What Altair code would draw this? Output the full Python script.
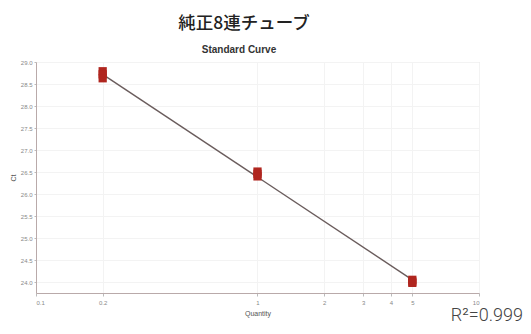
import altair as alt
import pandas as pd

# Data
quantity = [0.2, 0.2, 0.2, 1, 1, 1, 5, 5, 5]
ct = [28.79, 28.72, 28.63, 26.51, 26.46, 26.40, 24.05, 24.01, 23.98]
fit_quantity = [0.2, 5]
fit_ct = [28.72, 24.05]
x_ticks = [0.1, 0.2, 1, 2, 3, 4, 5, 10]
y_ticks = [24.0, 24.5, 25.0, 25.5, 26.0, 26.5, 27.0, 27.5, 28.0, 28.5, 29.0]
main_title = "純正8連チューブ"
sub_title = "Standard Curve"
r2_label = "R²=0.999"

pts = pd.DataFrame({"Quantity": quantity, "Ct": ct})
fit = pd.DataFrame({"Quantity": fit_quantity, "Ct": fit_ct})

xscale = alt.Scale(type="log", domain=[0.1, 10], nice=False)
yscale = alt.Scale(domain=[23.75, 29.0], nice=False, zero=False)

xaxis = alt.Axis(values=x_ticks, labelExpr="datum.value < 1 ? format(datum.value, '.1f') : format(datum.value, 'd')",
                 title="Quantity", labelFontSize=6, titleFontSize=7, titleFontWeight="normal",
                 labelColor="#888", titleColor="#555", tickSize=3, tickColor="#bbb",
                 domainColor="#b9aaaa", labelPadding=3, titlePadding=4, labelOverlap=False,
                 grid=True, gridColor="#f3f3f3", labelFont="Liberation Sans", titleFont="Liberation Sans")
yaxis = alt.Axis(values=y_ticks, labelExpr="format(datum.value, '.1f')", title="Ct", labelFontSize=6, titleFontSize=7,
                 titleFontWeight="normal", labelColor="#888", titleColor="#555", tickSize=2,
                 tickColor="#bbb", domainColor="#b9aaaa", labelPadding=2, titlePadding=4, labelOverlap=False,
                 grid=True, gridColor="#f3f3f3", labelFont="Liberation Sans", titleFont="Liberation Sans")

line = alt.Chart(fit).mark_line(color="#6a5c5c", strokeWidth=1.4).encode(
    x=alt.X("Quantity:Q", scale=xscale, axis=xaxis),
    y=alt.Y("Ct:Q", scale=yscale, axis=yaxis),
)

points = alt.Chart(pts).mark_point(shape="square", filled=True, size=68, color="#b0261f", opacity=1).encode(
    x=alt.X("Quantity:Q", scale=xscale, axis=xaxis),
    y=alt.Y("Ct:Q", scale=yscale, axis=yaxis),
)

def label(txt, x, y, size, weight="normal", color="#222", font="Liberation Sans", align="center", baseline="alphabetic"):
    return alt.Chart(pd.DataFrame({"t": [txt]})).mark_text(
        fontSize=size, fontWeight=weight, color=color, font=font, align=align, baseline=baseline
    ).encode(text="t:N", x=alt.value(x), y=alt.value(y))

t1 = label(main_title, 208, -33, 17.5, weight=500, color="#222", font="Noto Sans CJK JP")
t2 = label(sub_title, 203, -9, 10, weight="bold", color="#333")
t3 = label(r2_label, 487, 263, 18, weight=300, color="#444", font="Roboto", align="right", baseline="bottom")

chart = alt.layer(line, points, t1, t2, t3).properties(
    width=443, height=231,
    autosize=alt.AutoSizeParams(type="none"),
    padding={"left": 28, "top": 54, "right": 44, "bottom": 33},
).configure_view(stroke="#b9aaaa", strokeWidth=1).configure(background="white")

chart.save("out.html", embed_options={"renderer": "svg", "actions": False})
